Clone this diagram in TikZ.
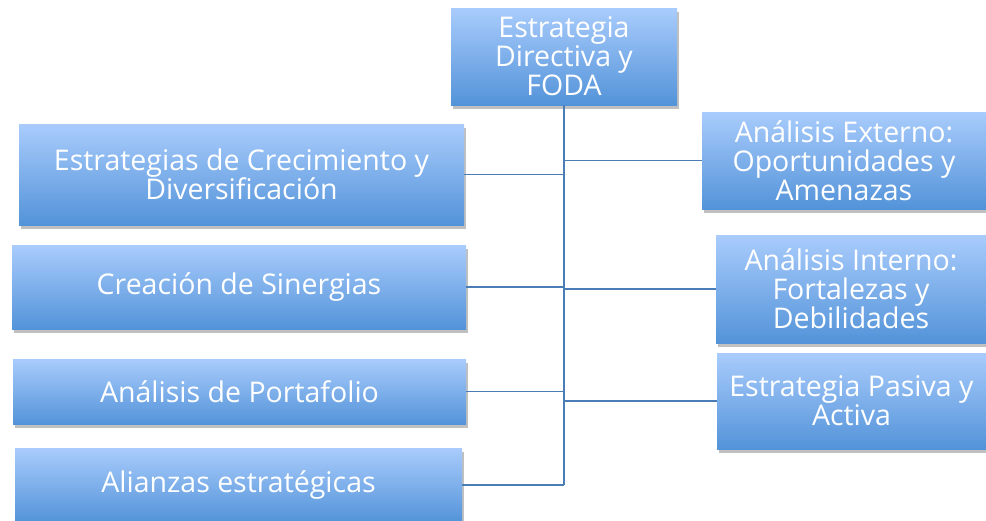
\documentclass[tikz,border=0pt]{standalone}
\usepackage{fontspec}
\setmainfont{Open Sans}
\usetikzlibrary{shadows}
\definecolor{boxtop}{HTML}{A9CCFC}
\definecolor{boxbot}{HTML}{5393D9}
\definecolor{linec}{HTML}{4A7DB5}
\tikzset{
  box/.style={rectangle, inner sep=0pt, top color=boxtop, bottom color=boxbot,
    draw=none, text=white, align=center, font=\fontsize{28.5}{29}\selectfont,
    drop shadow={shadow xshift=2pt, shadow yshift=-4pt, fill=black!45, opacity=0.55}},
  conn/.style={draw=linec, line width=1.8pt}
}
\begin{document}
\begin{tikzpicture}[x=1pt,y=-1pt]
\useasboundingbox (0,0) rectangle (986,520);
\node[box, minimum width=226pt, minimum height=97pt] (top) at (564,56.5) {Estrategia\\Directiva y\\FODA};
\node[box, minimum width=445pt, minimum height=101pt] (crec) at (241.5,174.5) {Estrategias de Crecimiento y\\Diversificación};
\node[box, minimum width=454pt, minimum height=84pt] (sin) at (239,287) {Creación de Sinergias};
\node[box, minimum width=453pt, minimum height=65pt] (port) at (239.5,391.5) {Análisis de Portafolio};
\node[box, minimum width=447pt, minimum height=74pt] (ali) at (238.5,485) {Alianzas estratégicas};
\node[box, minimum width=284pt, minimum height=97pt] (ext) at (844,160.5) {Análisis Externo:\\Oportunidades y\\Amenazas};
\node[box, minimum width=270pt, minimum height=108pt] (int) at (851,289) {Análisis Interno:\\Fortalezas y\\Debilidades};
\node[box, minimum width=269pt, minimum height=96pt] (pas) at (851.5,401) {Estrategia Pasiva y\\Activa};
\draw[conn] (top.south) -- (top.south |- ali.east);
\draw[conn] (crec.east) -- (crec.east -| top.south);
\draw[conn] (sin.east) -- (sin.east -| top.south);
\draw[conn] (port.east) -- (port.east -| top.south);
\draw[conn] (ali.east) -- (ali.east -| top.south);
\draw[conn] (ext.west -| top.south) -- (ext.west);
\draw[conn] (int.west -| top.south) -- (int.west);
\draw[conn] (pas.west -| top.south) -- (pas.west);
\end{tikzpicture}
\end{document}
